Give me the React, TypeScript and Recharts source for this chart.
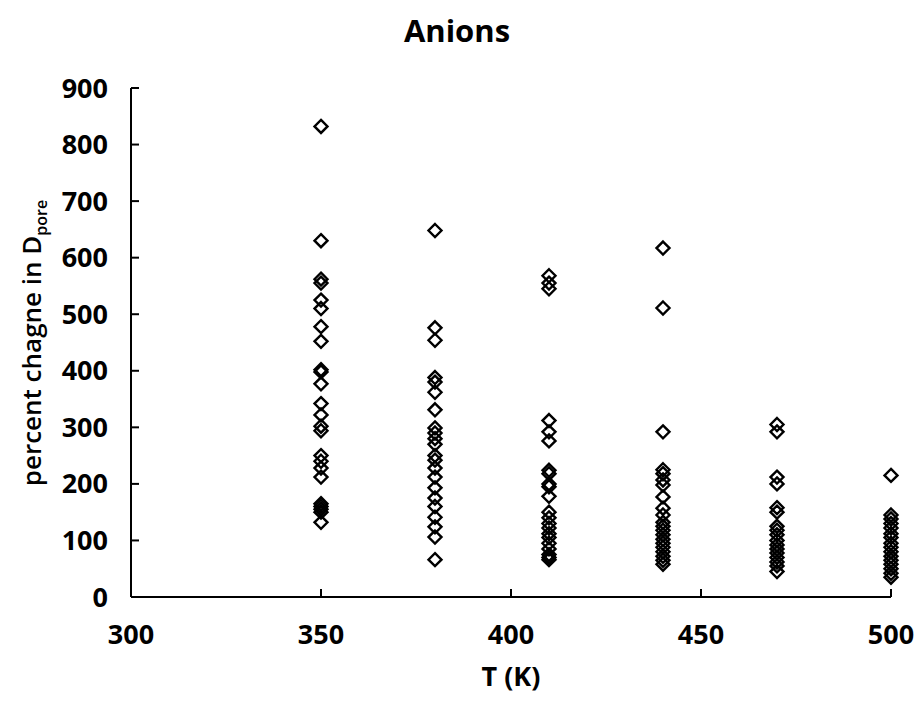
import React from 'react'
import { ScatterChart, Scatter, XAxis, YAxis } from 'recharts'

// percent change in D_pore at each temperature (K)
const T_VALUES = [350, 380, 410, 440, 470, 500]

const AT_350 = [832, 630, 562, 555, 525, 510, 478, 452, 402, 398, 377, 342, 322, 302, 294, 250, 240, 228, 212, 165, 160, 155, 150, 132]
const AT_380 = [648, 476, 454, 388, 380, 362, 331, 299, 290, 280, 270, 250, 242, 228, 212, 193, 175, 160, 141, 124, 106, 66]
const AT_410 = [568, 555, 545, 312, 292, 276, 224, 218, 200, 195, 178, 150, 140, 130, 122, 112, 105, 95, 85, 75, 70, 66]
const AT_440 = [617, 511, 292, 225, 218, 207, 198, 177, 157, 145, 132, 125, 118, 110, 102, 95, 88, 80, 72, 65, 58]
const AT_470 = [305, 292, 212, 200, 158, 150, 125, 118, 110, 100, 92, 85, 78, 70, 62, 55, 45]
const AT_500 = [215, 145, 138, 130, 122, 112, 105, 95, 88, 80, 72, 65, 58, 50, 42, 35]

const X_TICKS = [300, 350, 400, 450, 500]
const Y_TICKS = [0, 100, 200, 300, 400, 500, 600, 700, 800, 900]

const FONT = '"Open Sans", sans-serif'

const points = [AT_350, AT_380, AT_410, AT_440, AT_470, AT_500].flatMap((vals, i) =>
  vals.map(v => ({ t: T_VALUES[i], pct: v }))
)

// open, square-ish diamond marker
function Diamond(props: any) {
  const { cx, cy } = props
  const r = 6.5
  return (
    <polygon
      points={`${cx},${cy - r} ${cx + r},${cy} ${cx},${cy + r} ${cx - r},${cy}`}
      fill="none"
      stroke="#000"
      strokeWidth={2.4}
    />
  )
}

const tickStyle = { fontSize: 27, fontWeight: 700, fill: '#000', fontFamily: FONT }

export default function App() {
  return (
    <div style={{ position: 'absolute', left: 0, top: 0, width: 922, height: 719, background: '#fff' }}>
      <div
        style={{
          position: 'absolute', left: 0, top: 9, width: 914, textAlign: 'center',
          fontFamily: FONT, fontWeight: 700, fontSize: 31, color: '#000',
        }}
      >
        Anions
      </div>
      <ScatterChart width={922} height={719} margin={{ top: 88, right: 31, bottom: 62, left: 0 }}>
        <XAxis
          type="number"
          dataKey="t"
          domain={[300, 500]}
          ticks={X_TICKS}
          height={60}
          axisLine={{ stroke: '#000', strokeWidth: 2 }}
          tickLine={{ stroke: '#000', strokeWidth: 2 }}
          tickSize={-8}
          tickMargin={36}
          tick={tickStyle}
          label={{
            content: () => (
              <text x={511} y={686} textAnchor="middle" fontFamily={FONT} fontWeight={700} fontSize={27} fill="#000">
                T (K)
              </text>
            ),
          }}
        />
        <YAxis
          type="number"
          dataKey="pct"
          domain={[0, 900]}
          ticks={Y_TICKS}
          width={131}
          axisLine={{ stroke: '#000', strokeWidth: 2 }}
          tickLine={{ stroke: '#000', strokeWidth: 2 }}
          tickSize={-8}
          tickMargin={31}
          tick={tickStyle}
          label={{
            content: () => (
              <text
                x={41}
                y={343}
                transform="rotate(-90, 41, 343)"
                textAnchor="middle"
                fontFamily={FONT}
                fontWeight={600}
                fontSize={26}
                fill="#000"
              >
                percent chagne in D
                <tspan fontSize={16} dy={6}>pore</tspan>
              </text>
            ),
          }}
        />
        <Scatter data={points} shape={<Diamond />} isAnimationActive={false} />
      </ScatterChart>
    </div>
  )
}
